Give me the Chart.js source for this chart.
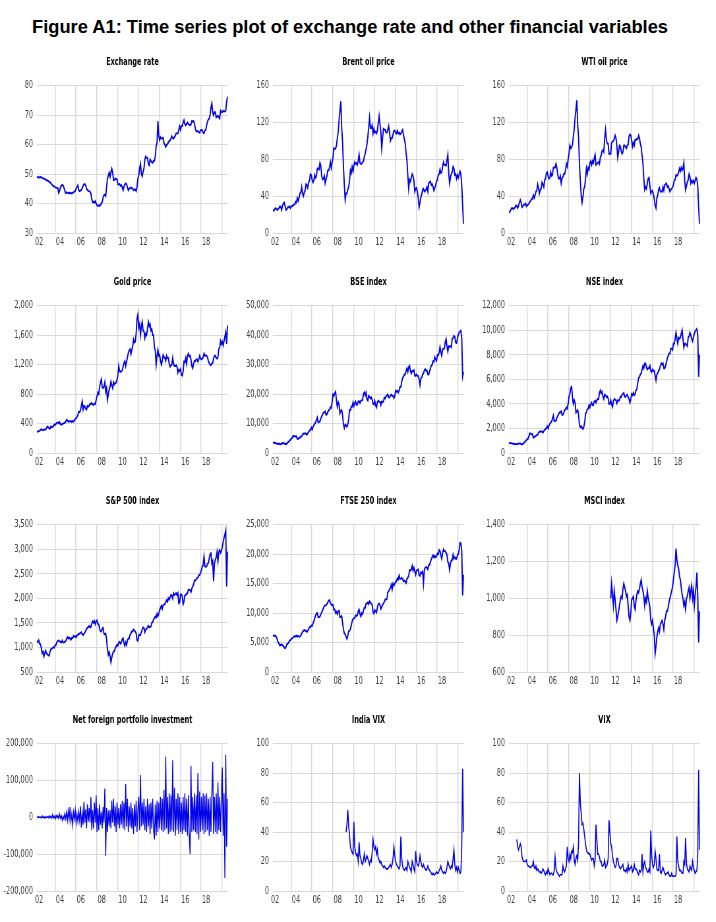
<!DOCTYPE html>
<html>
<head>
<meta charset="utf-8">
<script src="https://cdn.jsdelivr.net/npm/chart.js@4.4.1/dist/chart.umd.min.js"></script>
<style>
  body { margin: 0; background: #fff; width: 716px; height: 922px; position: relative; overflow: hidden; }
  #mainTitle { position: absolute; left: 0; width: 700px; top: 16px; text-align: center; line-height: 18px;
    font: bold 18.3px 'Liberation Sans', Arial, sans-serif; white-space: nowrap; }
  canvas { position: absolute; }
</style>
</head>
<body>
<div id="mainTitle">Figure A1: Time series plot of exchange rate and other financial variables</div>
<script>
// x axis labels (two-digit years)
const xTickLabels = ['02', '04', '06', '08', '10', '12', '14', '16', '18'];

// monthly series, Jan 2002 - Apr 2020 unless noted
const exchangeRate = [
  48.9, 49.0, 48.8, 48.9, 49.0, 48.9, 48.7, 48.6, 48.4, 48.3, 48.1, 47.9,
  47.8, 47.6, 47.4, 47.2, 46.9, 46.5, 46.1, 45.9, 45.8, 45.5, 45.4, 45.3,
  45.2, 43.6, 44.3, 45.5, 46.0, 46.3, 46.1, 45.4, 44.4, 43.5, 43.8, 43.6,
  43.5, 43.7, 43.4, 43.6, 43.4, 43.6, 43.8, 44.0, 44.3, 45.0, 45.6, 46.2,
  44.5, 44.2, 44.4, 44.6, 45.3, 46.0, 46.5, 46.6, 46.2, 45.0, 44.6, 44.3,
  44.2, 44.0, 43.4, 41.5, 40.5, 40.6, 40.3, 40.8, 40.0, 39.4, 39.2, 39.3,
  39.2, 39.6, 40.0, 40.5, 42.0, 42.8, 43.0, 42.5, 45.5, 48.5, 49.5, 50.5,
  49.0, 50.5, 51.8, 50.5, 48.0, 48.0, 48.5, 48.3, 48.2, 46.5, 46.5, 46.6,
  46.0, 46.2, 45.5, 44.5, 45.8, 46.5, 46.8, 46.5, 45.5, 44.5, 45.0, 45.2,
  45.5, 45.2, 45.0, 44.5, 44.8, 44.8, 44.2, 45.5, 48.5, 49.5, 52.0, 53.5,
  50.0, 49.2, 50.8, 52.0, 55.0, 56.0, 55.5, 55.5, 53.5, 53.0, 55.0, 54.5,
  54.0, 53.8, 54.5, 54.5, 56.0, 59.5, 60.5, 68.0, 63.0, 61.5, 62.5, 62.0,
  62.0, 62.3, 60.5, 60.0, 59.2, 59.8, 60.2, 60.7, 61.2, 61.4, 62.0, 62.8,
  62.2, 62.0, 62.5, 63.0, 63.8, 63.8, 63.8, 65.0, 66.2, 65.0, 66.3, 66.3,
  67.5, 68.3, 67.0, 66.5, 67.0, 67.5, 67.0, 66.8, 66.6, 66.8, 68.0, 67.8,
  68.0, 67.0, 65.5, 64.5, 64.5, 64.5, 64.2, 64.0, 64.8, 65.0, 64.8, 64.0,
  63.8, 64.8, 65.0, 66.5, 67.8, 68.5, 68.8, 70.0, 72.5, 74.0, 71.0, 70.0,
  71.0, 71.0, 69.2, 69.5, 69.8, 69.2, 68.8, 71.5, 71.0, 71.0, 71.5, 71.2,
  71.3, 71.5, 74.5, 76.2
];
const brentOil = [
  25, 24, 26, 27, 26, 25, 26, 27, 29, 28, 25, 30,
  32, 33, 29, 25, 26, 28, 28, 29, 27, 29, 29, 30,
  31, 31, 34, 33, 38, 35, 38, 43, 44, 50, 43, 40,
  44, 46, 53, 52, 49, 55, 57, 64, 63, 58, 55, 57,
  63, 60, 62, 70, 70, 69, 76, 73, 62, 58, 59, 62,
  54, 58, 62, 68, 68, 71, 77, 71, 77, 82, 92, 91,
  92, 95, 103, 110, 123, 133, 143, 114, 99, 72, 53, 36,
  43, 43, 47, 50, 57, 68, 65, 72, 67, 73, 77, 75,
  76, 74, 79, 85, 76, 75, 75, 77, 78, 83, 86, 91,
  96, 104, 114, 125, 114, 114, 117, 108, 113, 109, 110, 108,
  111, 119, 127, 118, 110, 92, 103, 113, 112, 112, 109, 109,
  112, 116, 109, 100, 103, 103, 107, 111, 111, 109, 108, 111,
  108, 109, 107, 108, 110, 112, 107, 102, 97, 87, 79, 62,
  48, 58, 56, 60, 64, 62, 57, 45, 48, 49, 45, 38,
  28, 33, 39, 42, 47, 48, 45, 46, 47, 50, 45, 54,
  55, 56, 52, 53, 50, 46, 49, 52, 56, 58, 63, 64,
  69, 65, 66, 72, 77, 74, 74, 73, 79, 85, 65, 54,
  60, 64, 66, 72, 70, 63, 64, 59, 63, 60, 63, 67,
  64, 52, 30, 10
];
const wtiOil = [
  22, 23, 25, 27, 27, 26, 27, 28, 30, 29, 27, 30,
  33, 36, 33, 28, 29, 31, 31, 32, 29, 30, 31, 32,
  34, 35, 37, 37, 41, 38, 41, 45, 46, 53, 49, 43,
  47, 48, 55, 53, 50, 57, 59, 65, 66, 62, 59, 60,
  66, 62, 63, 71, 71, 71, 75, 71, 64, 59, 59, 62,
  54, 59, 61, 64, 64, 68, 75, 72, 80, 86, 95, 92,
  93, 96, 105, 113, 125, 134, 144, 117, 104, 76, 57, 41,
  33, 39, 48, 50, 59, 70, 64, 71, 69, 76, 78, 74,
  78, 76, 81, 85, 74, 75, 76, 77, 75, 82, 84, 89,
  90, 88, 103, 112, 101, 97, 97, 86, 86, 86, 98, 99,
  100, 102, 106, 103, 95, 82, 88, 95, 94, 89, 86, 88,
  95, 95, 93, 92, 95, 96, 105, 107, 106, 101, 94, 98,
  95, 101, 101, 102, 102, 106, 103, 97, 93, 84, 76, 59,
  47, 50, 48, 54, 59, 60, 51, 43, 45, 46, 42, 37,
  30, 27, 38, 41, 47, 49, 45, 45, 45, 50, 46, 52,
  53, 54, 50, 51, 48, 45, 47, 48, 50, 52, 57, 58,
  63, 62, 63, 66, 70, 67, 71, 68, 70, 76, 57, 47,
  51, 55, 58, 64, 61, 54, 57, 55, 57, 54, 57, 60,
  58, 51, 28, 10
];
const goldPrice = [
  282, 296, 294, 302, 314, 321, 314, 310, 319, 317, 319, 342,
  360, 350, 335, 330, 362, 350, 352, 370, 385, 380, 396, 412,
  414, 400, 420, 390, 384, 392, 398, 405, 410, 425, 450, 440,
  424, 430, 430, 435, 420, 436, 425, 440, 465, 470, 490, 515,
  560, 555, 580, 640, 700, 590, 640, 630, 600, 590, 640, 630,
  640, 670, 660, 680, 660, 650, 670, 665, 720, 770, 820, 800,
  900, 960, 1000, 890, 880, 900, 960, 830, 880, 720, 800, 860,
  900, 970, 920, 880, 960, 930, 950, 955, 1000, 1050, 1180, 1110,
  1100, 1110, 1120, 1170, 1220, 1250, 1180, 1240, 1300, 1360, 1390, 1410,
  1340, 1400, 1440, 1540, 1500, 1510, 1620, 1820, 1880, 1700, 1750, 1600,
  1720, 1780, 1660, 1650, 1560, 1620, 1600, 1680, 1780, 1720, 1750, 1660,
  1680, 1600, 1600, 1430, 1390, 1200, 1320, 1400, 1320, 1330, 1250, 1200,
  1250, 1330, 1300, 1290, 1250, 1320, 1290, 1290, 1210, 1170, 1190, 1200,
  1290, 1210, 1180, 1180, 1190, 1170, 1090, 1130, 1115, 1140, 1060, 1050,
  1110, 1240, 1230, 1290, 1210, 1320, 1350, 1310, 1320, 1270, 1180, 1150,
  1210, 1250, 1245, 1270, 1270, 1240, 1270, 1320, 1280, 1270, 1280, 1300,
  1350, 1320, 1325, 1320, 1300, 1250, 1220, 1200, 1190, 1215, 1220, 1280,
  1320, 1320, 1290, 1280, 1300, 1410, 1430, 1520, 1480, 1510, 1460, 1520,
  1580, 1640, 1480, 1730
];
const bseIndex = [
  3311, 3562, 3469, 3338, 3125, 3245, 2988, 3181, 2991, 2950, 3228, 3377,
  3250, 3283, 3049, 2960, 3180, 3607, 3792, 4244, 4453, 4906, 5045, 5839,
  5695, 5667, 5591, 5655, 4760, 4795, 5170, 5192, 5584, 5672, 6234, 6603,
  6556, 6714, 6493, 6155, 6715, 7194, 7635, 7805, 8634, 7892, 8789, 9398,
  9920, 10370, 11280, 12043, 10399, 10609, 10744, 11699, 12454, 12962, 13696, 13787,
  14091, 12938, 13072, 13872, 14544, 14651, 15551, 15319, 17291, 19838, 19363, 20287,
  20800, 17579, 15644, 17287, 16416, 13462, 14356, 14565, 12860, 9788, 8500, 9647,
  9424, 8892, 9709, 11403, 14625, 14494, 15670, 15667, 17127, 15896, 16926, 17465,
  16358, 16430, 17528, 17559, 16945, 17701, 17868, 17971, 20069, 20600, 19521, 20509,
  18328, 17823, 19445, 19136, 18503, 18846, 18197, 16677, 16454, 17705, 16123, 15455,
  17194, 17753, 17404, 17319, 16219, 17430, 17236, 17430, 18763, 18505, 19340, 19427,
  19895, 18862, 18836, 19504, 19760, 19396, 19346, 18620, 19380, 21164, 20792, 21171,
  20514, 21120, 22386, 22418, 24217, 25414, 25895, 26638, 26631, 27866, 28694, 27499,
  29183, 29600, 27957, 27011, 27828, 27781, 28115, 26283, 26155, 26657, 26146, 26118,
  24871, 23002, 25342, 25607, 26668, 26999, 28052, 28452, 27866, 27930, 26653, 26626,
  27656, 28743, 29621, 29918, 31146, 30922, 32515, 31730, 31284, 33213, 33149, 34057,
  35965, 34184, 32969, 35160, 35322, 35423, 37607, 38645, 36227, 34442, 36194, 36068,
  36257, 35867, 38673, 39032, 39714, 39395, 37481, 37333, 38667, 40129, 40794, 41254,
  41500, 39000, 26000, 27500
];
const nseIndex = [
  790, 820, 800, 780, 760, 770, 720, 740, 720, 710, 750, 780,
  760, 770, 720, 700, 740, 820, 860, 980, 1030, 1130, 1170, 1380,
  1600, 1580, 1520, 1540, 1250, 1280, 1380, 1390, 1470, 1500, 1640, 1740,
  1730, 1780, 1730, 1650, 1780, 1880, 1960, 2020, 2180, 2000, 2230, 2380,
  2480, 2560, 2800, 3050, 2600, 2620, 2620, 2850, 3000, 3150, 3300, 3300,
  3400, 3100, 3100, 3300, 3500, 3550, 3700, 3600, 4000, 4600, 4800, 5300,
  5400, 4500, 4000, 4300, 4100, 3300, 3400, 3500, 3100, 2300, 2100, 2200,
  2050, 1950, 2100, 2500, 3200, 3300, 3550, 3600, 3900, 3700, 3950, 4100,
  3900, 3900, 4200, 4250, 4100, 4300, 4400, 4400, 4900, 5100, 4850, 5000,
  4600, 4400, 4750, 4700, 4550, 4600, 4450, 4000, 4000, 4300, 3950, 3750,
  4200, 4400, 4350, 4300, 4050, 4300, 4250, 4300, 4600, 4550, 4750, 4800,
  4900, 4600, 4550, 4700, 4750, 4550, 4400, 4100, 4400, 4800, 4700, 4900,
  4700, 4800, 5100, 5200, 5700, 6100, 6200, 6400, 6500, 6800, 7100, 6900,
  7300, 7300, 7000, 6800, 6900, 6900, 7100, 6700, 6600, 6800, 6700, 6700,
  6300, 5900, 6400, 6500, 6700, 6800, 7100, 7300, 7200, 7300, 6900, 6900,
  7100, 7400, 7700, 7900, 8100, 8100, 8500, 8500, 8400, 8900, 8900, 9300,
  9800, 9300, 8900, 9400, 9300, 9400, 9700, 10000, 9300, 8600, 8900, 8900,
  8800, 8700, 9400, 9500, 9800, 9600, 9300, 9100, 9400, 9700, 9900, 10000,
  10100, 9600, 6200, 8000
];
const spIndex = [
  1130, 1106, 1147, 1076, 1067, 990, 880, 916, 815, 885, 936, 880,
  855, 841, 830, 916, 963, 975, 990, 1008, 996, 1050, 1058, 1111,
  1131, 1144, 1126, 1107, 1100, 1140, 1101, 1104, 1114, 1130, 1173, 1211,
  1181, 1203, 1180, 1156, 1191, 1191, 1234, 1220, 1228, 1207, 1249, 1248,
  1280, 1280, 1294, 1310, 1270, 1250, 1276, 1303, 1335, 1377, 1400, 1418,
  1438, 1406, 1420, 1482, 1530, 1503, 1540, 1473, 1526, 1549, 1481, 1468,
  1378, 1330, 1322, 1385, 1400, 1280, 1267, 1282, 1166, 968, 850, 903,
  826, 700, 797, 872, 919, 919, 987, 1020, 1057, 1036, 1096, 1115,
  1074, 1104, 1169, 1187, 1089, 1031, 1102, 1049, 1141, 1183, 1181, 1258,
  1286, 1327, 1326, 1364, 1345, 1321, 1292, 1150, 1131, 1253, 1247, 1258,
  1312, 1366, 1408, 1398, 1310, 1362, 1379, 1407, 1441, 1412, 1416, 1426,
  1498, 1515, 1569, 1598, 1631, 1606, 1686, 1633, 1682, 1757, 1806, 1848,
  1783, 1859, 1872, 1884, 1924, 1960, 1931, 2003, 1972, 2018, 2068, 2059,
  1995, 2105, 2068, 2086, 2107, 2063, 2104, 1900, 1920, 2079, 2080, 2044,
  1880, 1932, 2060, 2065, 2097, 2099, 2174, 2171, 2168, 2126, 2199, 2239,
  2279, 2364, 2363, 2384, 2412, 2423, 2470, 2472, 2519, 2575, 2648, 2674,
  2850, 2650, 2641, 2648, 2705, 2718, 2816, 2902, 2920, 2712, 2760, 2350,
  2704, 2784, 2834, 2946, 2752, 2942, 2980, 2926, 2977, 3038, 3141, 3231,
  3300, 3380, 2240, 2950
];
const ftseIndex = [
  6300, 6100, 6200, 6100, 5900, 5500, 5000, 4800, 4500, 4600, 4700, 4500,
  4400, 4100, 4000, 4300, 4700, 4800, 5000, 5300, 5400, 5600, 5700, 5800,
  6000, 6100, 6000, 6200, 6000, 6100, 6000, 6000, 6200, 6500, 6800, 7000,
  7100, 7000, 7000, 6800, 7000, 7300, 7600, 7600, 7900, 7800, 8200, 8600,
  9100, 9600, 9900, 10000, 9300, 9300, 9400, 9800, 10100, 10500, 10800, 11200,
  11300, 11300, 11500, 11800, 12100, 12200, 11700, 11500, 11300, 11400, 10600, 10600,
  10000, 10200, 9800, 10300, 10400, 9300, 9300, 9500, 8400, 7200, 6600, 6400,
  6000, 5600, 6100, 6900, 7000, 7300, 7900, 8600, 9000, 9100, 9200, 9600,
  9500, 9600, 10300, 10600, 9800, 9400, 10000, 9800, 10400, 10900, 10900, 11600,
  11600, 11800, 11500, 12000, 11800, 11600, 11400, 10200, 9900, 10500, 10300, 10100,
  10900, 11500, 11600, 11400, 10700, 11000, 11400, 11600, 11900, 12300, 12300, 12400,
  13500, 13700, 14000, 14300, 14800, 14000, 15000, 14700, 15000, 15300, 15400, 15900,
  15700, 16400, 15800, 15800, 16000, 15800, 15400, 15500, 15300, 15100, 15800, 16000,
  16300, 17300, 17200, 17400, 18000, 17200, 17700, 17100, 16500, 17200, 17300, 17400,
  16400, 16300, 16900, 16800, 17000, 15000, 17300, 17700, 17800, 17700, 17400, 18100,
  18200, 18700, 19100, 19500, 19800, 19400, 19700, 19500, 19600, 20100, 20000, 20700,
  20500, 19800, 19200, 20200, 20800, 20500, 20500, 20200, 19900, 18700, 18400, 17300,
  18400, 18900, 19000, 19900, 19200, 19500, 19200, 19200, 19800, 20000, 20700, 21900,
  21800, 20500, 13000, 16500
];
// MSCI index, Oct 2011 - Apr 2020
const msciIndex = [
  1000, 1080, 1020,
  960, 1040, 990, 940, 880, 900, 930, 960, 990, 1010, 1000, 1050,
  1080, 1060, 1040, 1010, 1020, 960, 900, 880, 920, 990, 1000, 1010,
  960, 940, 990, 1020, 1040, 1030, 1050, 1080, 1100, 1060, 1040, 1010,
  960, 1000, 980, 1040, 1000, 980, 950, 880, 860, 880, 840, 800,
  700, 740, 790, 820, 840, 820, 860, 870, 880, 860, 830, 880,
  900, 930, 930, 950, 980, 1000, 1020, 1040, 1060, 1100, 1140, 1180,
  1270, 1210, 1180, 1160, 1120, 1100, 1060, 1020, 1000, 960, 980, 940,
  1000, 1010, 1040, 1060, 1000, 1040, 1070, 1000, 1040, 960, 1020, 1060,
  1140, 1010, 760, 930
];
const netFpi = [
  1500, -800, 2500, -1200, 800, -2000, 3500, -600, 1500, -2500, 2000, -500,
  2000, -1500, 4000, -1000, 3000, -2500, 7000, -2000, 2500, -4500, 5000, -1500,
  5000, -3000, 9000, -2000, 4000, -8000, 3000, -5000, 10000, -4000, 14000, -9000,
  18000, -6000, 28000, -12000, 8000, -22000, 14000, -5000, 20000, -15000, 9000, -12000,
  15000, -8000, 30000, -28000, 12000, -20000, 42000, -15000, 22000, -30000, 35000, -12000,
  25000, -15000, 55000, -35000, 20000, -30000, 40000, -15000, 60000, -40000, 25000, -35000,
  35000, -20000, 15000, -30000, 28000, -15000, 78000, -105000, 25000, -40000, 18000, -25000,
  20000, -30000, 45000, -15000, 50000, -25000, 30000, -40000, 40000, -20000, 25000, -30000,
  35000, -20000, 45000, -30000, 40000, -35000, 90000, -25000, 50000, -40000, 30000, -25000,
  40000, -30000, 25000, -45000, 35000, -25000, 45000, -40000, 20000, 55000, -35000, 115000,
  -25000, 40000, -20000, 50000, -35000, 30000, -40000, 50000, -25000, 35000, -45000, 40000,
  -30000, 50000, -35000, -60000, 35000, -50000, 45000, -40000, 40000, -30000, 55000, -35000,
  50000, -40000, 75000, -35000, 165000, -30000, 55000, -45000, 65000, -40000, 60000, -35000,
  155000, -40000, 80000, -50000, 50000, -35000, 65000, -45000, 55000, -40000, 40000, -45000,
  55000, -35000, 65000, -40000, 50000, -50000, 60000, -45000, -100000, 140000, -40000, 55000,
  -35000, 65000, -40000, 60000, -45000, 120000, -60000, 70000, -40000, 55000, -35000, 65000,
  -45000, 60000, -40000, 65000, -35000, 50000, -50000, 55000, -40000, 60000, 150000, -45000,
  55000, -40000, 65000, -45000, 95000, -35000, 55000, -40000, 60000, 135000, -50000, 65000,
  -165000, 170000, -80000, 50000
];
// India VIX, Jan 2009 - Apr 2020
const indiaVix = [
  40, 45, 55, 44, 38, 30, 28, 26, 25, 47, 30, 26,
  24, 25, 20, 33, 24, 22, 19, 18, 21, 25, 20, 22,
  24, 22, 20, 18, 21, 20, 26, 35, 30, 28, 30, 25,
  28, 22, 21, 19, 20, 18, 17, 16, 17, 16, 15, 15,
  15, 16, 17, 18, 16, 18, 22, 30, 24, 20, 18, 17,
  16, 15, 17, 37, 22, 17, 15, 14, 15, 16, 14, 20,
  18, 16, 15, 13, 20, 18, 15, 13, 27, 20, 18, 17,
  19, 24, 20, 17, 16, 18, 16, 15, 14, 15, 17, 15,
  14, 13, 12, 11, 12, 11, 11, 12, 13, 12, 12, 14,
  15, 17, 14, 13, 12, 13, 12, 13, 16, 20, 18, 16,
  15, 17, 16, 22, 28, 18, 14, 16, 13, 16, 14, 12,
  13, 30, 83, 40
];
// CBOE VIX, Oct 2002 - Apr 2020
const usVix = [
  35, 30, 28,
  30, 32, 30, 23, 21, 20, 20, 20, 21, 18, 17, 17,
  16, 16, 17, 17, 20, 16, 15, 17, 14, 15, 14, 13,
  13, 12, 13, 15, 14, 12, 11, 13, 12, 15, 13, 11,
  12, 12, 11, 11, 14, 23, 15, 13, 12, 11, 10, 11,
  11, 11, 17, 14, 13, 15, 17, 30, 22, 20, 25, 22,
  27, 26, 30, 21, 18, 22, 24, 21, 33, 80, 60, 53,
  45, 46, 42, 37, 32, 28, 26, 26, 25, 25, 23, 21,
  22, 22, 17, 21, 45, 35, 25, 25, 23, 20, 20, 17,
  17, 18, 21, 16, 17, 18, 22, 48, 40, 32, 30, 24,
  20, 18, 16, 17, 22, 22, 18, 16, 15, 16, 17, 18,
  14, 14, 13, 15, 13, 18, 14, 15, 16, 17, 13, 14,
  18, 15, 15, 14, 12, 11, 14, 13, 14, 25, 13, 18,
  20, 16, 15, 13, 13, 15, 13, 41, 24, 18, 16, 18,
  27, 22, 15, 14, 14, 25, 13, 12, 14, 16, 14, 12,
  11, 12, 12, 13, 11, 10, 10, 12, 10, 10, 10, 10,
  11, 37, 20, 17, 14, 14, 13, 12, 12, 20, 18, 36,
  19, 15, 14, 13, 17, 15, 14, 20, 16, 14, 12, 13,
  14, 25, 82, 28
];

const panels = [
  { title: 'Exchange rate', values: exchangeRate, start: 2002, min: 30, max: 80, step: 10 },
  { title: 'Brent oil price', values: brentOil, start: 2002, min: 0, max: 160, step: 40 },
  { title: 'WTI oil price', values: wtiOil, start: 2002, min: 0, max: 160, step: 40 },
  { title: 'Gold price', values: goldPrice, start: 2002, min: 0, max: 2000, step: 400 },
  { title: 'BSE index', values: bseIndex, start: 2002, min: 0, max: 50000, step: 10000 },
  { title: 'NSE index', values: nseIndex, start: 2002, min: 0, max: 12000, step: 2000 },
  { title: 'S&P 500 index', values: spIndex, start: 2002, min: 500, max: 3500, step: 500 },
  { title: 'FTSE 250 index', values: ftseIndex, start: 2002, min: 0, max: 25000, step: 5000 },
  { title: 'MSCI index', values: msciIndex, start: 2011.75, min: 600, max: 1400, step: 200 },
  { title: 'Net foreign portfolio investment', values: netFpi, start: 2002, min: -200000, max: 200000, step: 100000, lw: 1.4 },
  { title: 'India VIX', values: indiaVix, start: 2009, min: 0, max: 100, step: 20, lw: 1.6 },
  { title: 'VIX', values: usVix, start: 2002.75, min: 0, max: 100, step: 20, lw: 1.6 }
];

// the source figure is squeezed sideways, so each canvas is drawn wider and shown narrower
const squeeze = 0.66;
const panelW = 236;
const panelH = 200;
const colLeft = [0, 236, 472];
const rowTop = [53, 273, 492, 711];
const gridColor = '#d9d9d9';
const tickColor = '#404040';
const narrow = "'Liberation Sans Narrow', 'DejaVu Sans Condensed', sans-serif";

function toPoints(values, start) {
    return values.map((v, i) => ({ x: start + i / 12, y: v }));
}

function drawPanel(p, idx) {
    const canvas = document.createElement('canvas');
    canvas.width = Math.round(panelW / squeeze);
    canvas.height = panelH;
    canvas.style.width = panelW + 'px';
    canvas.style.height = panelH + 'px';
    canvas.style.left = colLeft[idx % 3] + 'px';
    canvas.style.top = rowTop[Math.floor(idx / 3)] + 'px';
    document.body.appendChild(canvas);

    new Chart(canvas.getContext('2d'), {
        type: 'line',
        data: {
            datasets: [{
                data: toPoints(p.values, p.start),
                borderColor: 'rgb(0,0,235)',
                borderWidth: p.lw || 1.9,
                pointRadius: 0,
                tension: 0,
                fill: false
            }]
        },
        options: {
            responsive: false,
            animation: false,
            devicePixelRatio: 1,
            layout: { padding: { right: 8 / squeeze } },
            plugins: {
                legend: { display: false },
                tooltip: { enabled: false },
                title: {
                    display: true,
                    text: p.title,
                    fullSize: false,
                    color: '#000',
                    font: { family: narrow, size: 11, weight: 'bold' },
                    padding: { top: 3, bottom: 16.4 }
                }
            },
            scales: {
                x: {
                    type: 'linear',
                    min: 2002,
                    max: 2020.3,
                    afterBuildTicks: s => { s.ticks = xTickLabels.map(l => ({ value: 2000 + Number(l) + 1.73 })); },
                    afterFit: s => { s.height = 20; },
                    grid: { color: gridColor, lineWidth: 1.5, drawTicks: false },
                    border: { display: false },
                    ticks: {
                        callback: (v, i) => xTickLabels[i],
                        labelOffset: -16 / squeeze,
                        padding: 3,
                        autoSkip: false,
                        maxRotation: 0,
                        color: tickColor,
                        font: { family: narrow, size: 11 }
                    }
                },
                y: {
                    min: p.min,
                    max: p.max,
                    afterFit: s => { s.width = 37 / squeeze; },
                    grid: { color: gridColor, drawTicks: false },
                    border: { display: false },
                    ticks: {
                        stepSize: p.step,
                        padding: 4 / squeeze,
                        color: tickColor,
                        font: { family: narrow, size: 11 },
                        callback: v => v.toLocaleString('en-US')
                    }
                }
            }
        }
    });
}

panels.forEach(drawPanel);
</script>
</body>
</html>
